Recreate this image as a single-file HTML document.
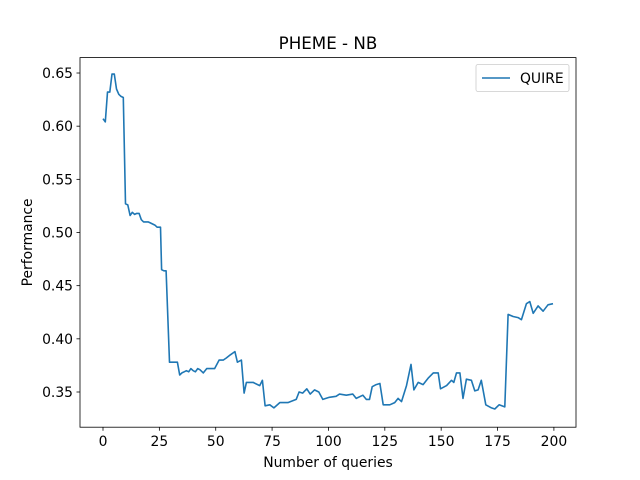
<!DOCTYPE html>
<html><head><meta charset="utf-8"><style>
body{margin:0;background:#fff}
svg{display:block;font-family:"DejaVu Sans","Liberation Sans",sans-serif}
</style></head><body>
<svg id="chart" width="640" height="480">
<rect width="640" height="480" fill="#fff"/>
<text x="328" y="49" text-anchor="middle" font-size="16.7">PHEME - NB</text>
<g id="xt"></g><g id="yt"></g>
<path id="line" fill="none" stroke="#1f77b4" stroke-width="1.6" stroke-linejoin="round"/>
<rect x="80" y="57.6" width="496" height="369.6" fill="none" stroke="#000" stroke-width="0.8"/>
<text x="328" y="467" text-anchor="middle" font-size="13.9">Number of queries</text>
<text transform="translate(32,242.4) rotate(-90)" text-anchor="middle" font-size="13.9">Performance</text>
<g>
<rect x="476" y="64.5" width="93" height="27" rx="2" fill="#fff" stroke="#ccc" stroke-width="0.8"/>
<line x1="482" y1="78" x2="510" y2="78" stroke="#1f77b4" stroke-width="1.6"/>
<text x="520" y="83" font-size="13.9">QUIRE</text>
</g>
</svg>
<script>
const xs=[0,1,2,3,4,5,6,7,8,9,10,11,12,13,14,15,16,17,18,19,20,21,22,23,24,25.5,26,27,28,29.5,33,34,35,36,37,38,39,40,41,42,43,44.5,46,49.5,51.5,53.3,54.7,56.5,58.5,59.6,61.4,62.6,63.6,66.6,69.5,70.7,71.9,74,75.8,78.4,82,85.7,87,88.6,90.4,91.9,93.8,95.7,97.5,100.4,103.4,104.9,107.9,110.8,112.3,115.3,116.8,118.2,119.4,121.2,122.8,124.3,127.2,129.4,130.9,132.4,134.6,136.6,137.9,139.8,142,144.2,146.5,148.7,149.7,152.4,154.6,155.6,156.8,158.3,159.7,161.2,163.4,164.9,166.4,167.8,169.8,172.3,173.8,175.7,178.2,179.7,181.9,184.1,185.6,187.8,189.3,190.8,193,195.2,197.4,199.6];
const ys=[.607,.604,.632,.632,.649,.649,.635,.630,.628,.627,.527,.526,.516,.519,.517,.518,.518,.512,.510,.510,.510,.509,.508,.507,.505,.505,.465,.464,.464,.378,.378,.366,.368,.369,.370,.369,.372,.370,.369,.372,.371,.368,.372,.372,.380,.380,.382,.385,.388,.378,.380,.349,.359,.359,.356,.361,.337,.338,.335,.340,.340,.343,.350,.349,.353,.348,.352,.350,.343,.345,.346,.348,.347,.348,.344,.347,.343,.343,.355,.357,.358,.338,.338,.340,.344,.341,.356,.376,.352,.359,.357,.363,.368,.368,.353,.356,.361,.359,.368,.368,.344,.362,.361,.351,.352,.361,.338,.335,.334,.338,.336,.423,.421,.420,.418,.433,.435,.424,.431,.426,.432,.433];
const xTicks=[0,25,50,75,100,125,150,175,200];
const yTicks=[0.35,0.40,0.45,0.50,0.55,0.60,0.65];
const X=v=>103+(v)*2.2545, Y=v=>392-(v-0.35)*1063.3;
const NS="http://www.w3.org/2000/svg";
const xt=document.getElementById('xt'), yt=document.getElementById('yt');
xTicks.forEach(t=>{
 const l=document.createElementNS(NS,'line');l.setAttribute('x1',X(t));l.setAttribute('x2',X(t));l.setAttribute('y1',427.2);l.setAttribute('y2',430.7);l.setAttribute('stroke','#000');l.setAttribute('stroke-width','0.8');
 
 
 xt.appendChild(l);
 const s=document.createElementNS(NS,'text');s.setAttribute('x',X(t));s.setAttribute('y',446);s.setAttribute('text-anchor','middle');s.setAttribute('font-size','13.9');s.textContent=t;
 
 
 xt.appendChild(s);
});
yTicks.forEach(t=>{
 const l=document.createElementNS(NS,'line');l.setAttribute('x1',76.5);l.setAttribute('x2',80);l.setAttribute('y1',Y(t));l.setAttribute('y2',Y(t));l.setAttribute('stroke','#000');l.setAttribute('stroke-width','0.8');
 
 
 yt.appendChild(l);
 const s=document.createElementNS(NS,'text');s.setAttribute('x',73);s.setAttribute('y',Y(t)+5);s.setAttribute('text-anchor','end');s.setAttribute('font-size','13.9');s.textContent=t.toFixed(2);
 
 
 yt.appendChild(s);
});
document.getElementById('line').setAttribute('d',xs.map((x,i)=>(i?'L':'M')+X(x).toFixed(1)+','+Y(ys[i]).toFixed(1)).join(''));
</script>
</body></html>
